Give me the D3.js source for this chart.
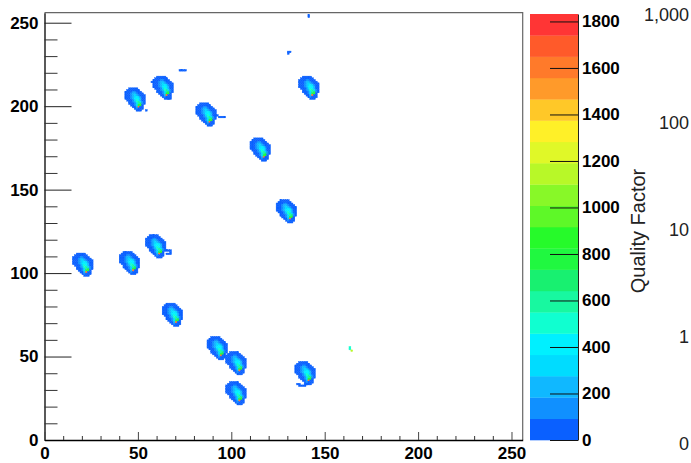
<!DOCTYPE html>
<html>
<head>
<meta charset="utf-8">
<script src="https://cdn.jsdelivr.net/npm/d3@7"></script>
<style>
  body { margin: 0; background: #fff; }
  svg { display: block; }
  .lbl text { font-family: "Liberation Sans", Arial, sans-serif; font-weight: 700; font-size: 17px; fill: #000; }
  .q text { font-family: "Liberation Sans", Arial, sans-serif; font-size: 18px; fill: #222; }
</style>
</head>
<body>
<svg id="chart" width="691" height="463"></svg>
<script>
// palette of the 20 contour bands, bottom (0) to top (1800+)
const bandColors = [
  '#0a60ff', '#1090ff', '#10b8ff', '#00dcff', '#00f0ff',
  '#10ffd0', '#18f8a0', '#18f070', '#20f840', '#26fa2a',
  '#5ef828', '#88f828', '#b8f828', '#e0f828', '#fff028',
  '#ffc828', '#ff9a2a', '#ff7a2a', '#ff5a2a', '#ff3535'
];
const zMax = 1832;
const colorTicks = [0, 200, 400, 600, 800, 1000, 1200, 1400, 1600, 1800];
const axisMajor = [0, 50, 100, 150, 200, 250];
const axisMinor = d3.range(0, 256, 10);
const qualityLabels = ['0', '1', '10', '100', '1,000'];

// one spot in the detector: rows top->bottom, chars = band index (base 36), '.' empty
const spot = [
  '..00000....',
  '.0000000...',
  '000011000..',
  '0001221000.',
  '00012321000',
  '00012343100',
  '00012444200',
  '.0001354200',
  '..001256310',
  '..000136710',
  '...0013890.',
  '....002h00.',
  '.....01000.',
  '......000..'
];
// left column and top row of each spot
const spotX = [43, 58, 81, 110, 124, 136, 15, 40, 54, 63, 87, 97, 97, 134];
const spotY = [210, 217, 201, 180, 143, 217, 111, 112, 122, 81, 61, 52, 34, 46];
// loose cells: [x, y, band]
const specks = [
  [72, 221, 0], [73, 221, 0], [74, 221, 0], [75, 221, 0],
  [130, 232, 0], [131, 232, 0], [130, 231, 0],
  [141, 254, 0], [141, 253, 0],
  [91, 194, 0], [92, 194, 0], [93, 193, 0], [94, 193, 0], [95, 193, 0], [96, 193, 0],
  [57, 214, 0], [66, 204, 0], [67, 204, 0], [54, 197, 0],
  [65, 113, 0], [66, 113, 0], [67, 113, 0], [67, 112, 0], [66, 111, 0], [67, 111, 0], [65, 111, 0],
  [135, 33, 0], [136, 33, 0], [136, 32, 0], [137, 32, 0], [138, 32, 0], [139, 32, 0], [139, 33, 0], [140, 33, 0],
  [163, 55, 5], [163, 54, 5], [164, 53, 12]
];

const svg = d3.select('#chart');
const x = d3.scaleLinear().domain([0, 256]).range([44.5, 522.7]);
const y = d3.scaleLinear().domain([0, 256]).range([440, 12.7]);
const step = zMax / bandColors.length;
const color = d3.scaleQuantize().domain([0, zMax]).range(bandColors);

// build cells
const cells = [];
spotX.forEach((sx, i) => {
  spot.forEach((row, r) => {
    row.split('').forEach((ch, c) => {
      if (ch === '.') return;
      cells.push({ x: sx + c, y: spotY[i] - r, z: (parseInt(ch, 36) + 0.5) * step });
    });
  });
});
specks.forEach(d => cells.push({ x: d[0], y: d[1], z: (d[2] + 0.5) * step }));

svg.append('g').selectAll('rect').data(cells).join('rect')
  .attr('x', d => x(d.x))
  .attr('y', d => y(d.y + 1))
  .attr('width', d => x(d.x + 1) - x(d.x))
  .attr('height', d => y(d.y) - y(d.y + 1))
  .attr('fill', d => color(d.z))
  .attr('stroke', d => color(d.z))
  .attr('stroke-width', 0.4);

// frame top/right
svg.append('path')
  .attr('d', `M${x(0)},${y(256)}H${x(256)}V${y(0)}`)
  .attr('fill', 'none').attr('stroke', '#666').attr('stroke-width', 1.2);

// y axis
const yMinor = svg.append('g').attr('transform', `translate(${x(0)},0)`)
  .call(d3.axisRight(y).tickValues(axisMinor.filter(v => v % 50)).tickSize(13).tickSizeOuter(0).tickFormat(''));
yMinor.selectAll('line').attr('stroke', '#333');
yMinor.select('.domain').attr('stroke', '#000').attr('stroke-width', 1.3);
svg.append('g').attr('transform', `translate(${x(0)},0)`)
  .call(d3.axisRight(y).tickValues(axisMajor).tickSize(27).tickFormat(''))
  .call(g => g.select('.domain').remove())
  .selectAll('line').attr('stroke', '#222');
svg.append('g').attr('class', 'lbl').attr('transform', `translate(${x(0)},0)`)
  .call(d3.axisLeft(y).tickValues(axisMajor).tickSize(0).tickPadding(6))
  .call(g => g.select('.domain').remove());

// x axis
const xMinor = svg.append('g').attr('transform', `translate(0,${y(0)})`)
  .call(d3.axisTop(x).tickValues(axisMinor.filter(v => v % 50)).tickSize(4).tickSizeOuter(0).tickFormat(''));
xMinor.selectAll('line').attr('stroke', '#333');
xMinor.select('.domain').attr('stroke', '#000').attr('stroke-width', 1.3);
svg.append('g').attr('transform', `translate(0,${y(0)})`)
  .call(d3.axisTop(x).tickValues(axisMajor).tickSize(8).tickFormat(''))
  .call(g => g.select('.domain').remove())
  .selectAll('line').attr('stroke', '#444');
svg.append('g').attr('class', 'lbl').attr('transform', `translate(0,${y(0)})`)
  .call(d3.axisBottom(x).tickValues(axisMajor).tickSize(0).tickPadding(7))
  .call(g => g.select('.domain').remove());

// colour bar
const yc = d3.scaleLinear().domain([0, zMax]).range([440, 14]);
const barX0 = 530, barX1 = 578;
svg.append('g').selectAll('rect').data(bandColors).join('rect')
  .attr('x', barX0)
  .attr('y', (c, i) => yc((i + 1) * step))
  .attr('width', barX1 - barX0)
  .attr('height', (c, i) => yc(i * step) - yc((i + 1) * step) + 0.3)
  .attr('fill', c => c);
svg.append('g').attr('transform', `translate(${barX1},0)`)
  .call(d3.axisLeft(yc).tickValues(colorTicks).tickSize(28).tickSizeOuter(0).tickFormat(''))
  .call(g => g.selectAll('line').attr('stroke', '#111'))
  .call(g => g.select('.domain').attr('stroke', '#222'));
svg.append('g').attr('class', 'lbl').attr('transform', `translate(${barX1},0)`)
  .call(d3.axisRight(yc).tickValues(colorTicks).tickSize(0).tickPadding(4).tickFormat(d3.format('d')))
  .call(g => g.select('.domain').remove());

// quality factor labels
const yq = d3.scalePoint().domain(qualityLabels).range([444, 15]);
const q = svg.append('g').attr('class', 'q');
q.selectAll('text.v').data(qualityLabels).join('text')
  .attr('class', 'v')
  .attr('x', 689)
  .attr('y', d => yq(d))
  .attr('dy', '0.36em')
  .attr('text-anchor', 'end')
  .text(d => d);
q.append('text')
  .attr('transform', 'translate(645,231) rotate(-90)')
  .attr('text-anchor', 'middle')
  .style('font-size', '20px')
  .text('Quality Factor');
</script>
</body>
</html>
